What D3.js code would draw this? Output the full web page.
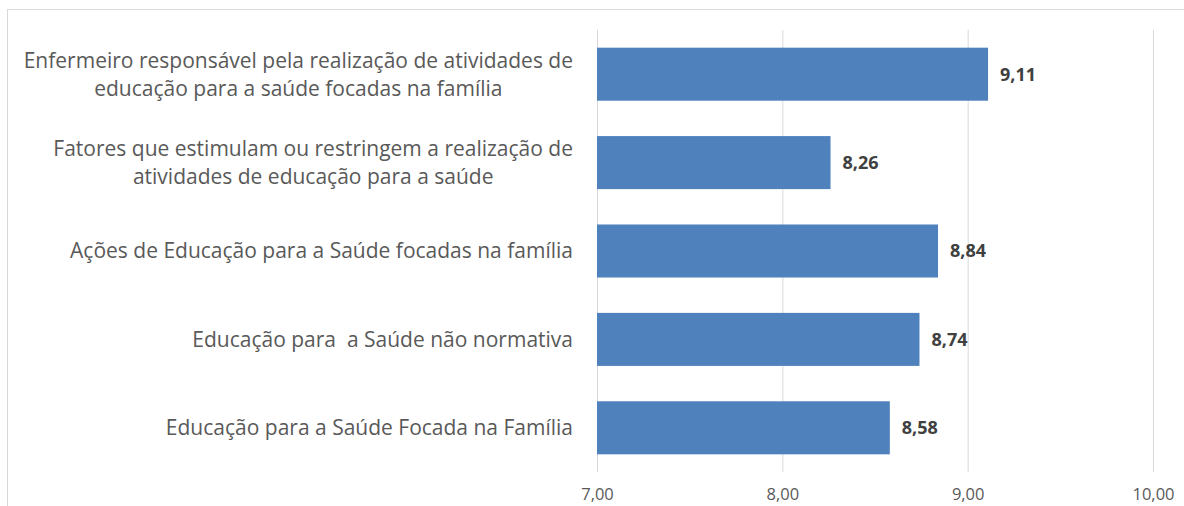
<!DOCTYPE html>
<html>
<head>
<meta charset="utf-8">
<script src="https://cdn.jsdelivr.net/npm/d3@7"></script>
<style>
  body { margin: 0; background: #fff; }
  svg { font-family: "Open Sans", sans-serif; }
  .cat text { white-space: pre; }
</style>
</head>
<body>
<div id="root"></div>
<script>
// data
var categories = [
  "Enfermeiro responsável pela realização de atividades de\neducação para a saúde focadas na família",
  "Fatores que estimulam ou restringem a realização de\natividades de educação para a saúde",
  "Ações de Educação para a Saúde focadas na família",
  "Educação para  a Saúde não normativa",
  "Educação para a Saúde Focada na Família"
]
var values = [9.11, 8.26, 8.84, 8.74, 8.58]
var ticks = [7, 8, 9, 10]

var width = 1184, height = 506
var margin = { top: 30, right: 31, bottom: 34, left: 597 }

var svg = d3.select("#root").append("svg")
  .attr("width", width)
  .attr("height", height)

// chart frame (only top and left visible)
svg.append("rect")
  .attr("x", 7.5).attr("y", 9.5)
  .attr("width", width + 20).attr("height", height + 20)
  .attr("fill", "none")
  .attr("stroke", "#d9d9d9")

var x = d3.scaleLinear()
  .domain([7, 10])
  .range([margin.left, width - margin.right])

var y = d3.scaleBand()
  .domain(d3.range(categories.length))
  .range([margin.top, height - margin.bottom])
  .paddingInner(0.4)
  .paddingOuter(0.2)

// gridlines
svg.append("g")
  .selectAll("line")
  .data(ticks)
  .enter().append("line")
  .attr("x1", d => x(d) + 0.5).attr("x2", d => x(d) + 0.5)
  .attr("y1", margin.top).attr("y2", height - margin.bottom)
  .attr("stroke", "#d9d9d9")

// x axis labels
var xAxis = d3.axisBottom(x)
  .tickValues(ticks)
  .tickSize(0)
  .tickPadding(16)
  .tickFormat(d => d3.format(".2f")(d).replace(".", ","))

svg.append("g")
  .attr("transform", "translate(0," + (height - margin.bottom) + ")")
  .call(xAxis)
  .call(g => g.select(".domain").remove())
  .attr("font-size", 16.5)
  .attr("font-family", "Open Sans, sans-serif")
  .selectAll("text")
  .attr("fill", "#595959")

// bars
svg.append("g")
  .selectAll("rect")
  .data(values)
  .enter().append("rect")
  .attr("x", x(7))
  .attr("y", (d, i) => y(i))
  .attr("width", d => x(d) - x(7))
  .attr("height", y.bandwidth())
  .attr("fill", "#4f81bd")

// value labels
svg.append("g")
  .selectAll("text")
  .data(values)
  .enter().append("text")
  .attr("x", d => x(d) + 12)
  .attr("y", (d, i) => y(i) + y.bandwidth() / 2)
  .attr("dy", "0.35em")
  .attr("font-size", 18)
  .attr("font-weight", "bold")
  .attr("fill", "#404040")
  .text(d => d3.format(".2f")(d).replace(".", ","))

// category labels, wrapped lines centred on each other, block right aligned
var labelRight = 573, lineH = 28
var cat = svg.append("g").attr("class", "cat")
categories.forEach(function(c, i) {
  var lines = c.split("\n")
  var t = cat.append("text")
    .attr("font-size", 21)
    .attr("fill", "#595959")
  var cy = y(i) + y.bandwidth() / 2
  lines.forEach(function(l, j) {
    t.append("tspan")
      .attr("y", cy + (j - (lines.length - 1) / 2) * lineH)
      .attr("dy", "0.35em")
      .text(l)
  })
  var maxW = d3.max(t.selectAll("tspan").nodes(), n => n.getComputedTextLength())
  t.attr("text-anchor", "middle")
  t.selectAll("tspan").attr("x", labelRight - maxW / 2)
})
</script>
</body>
</html>
